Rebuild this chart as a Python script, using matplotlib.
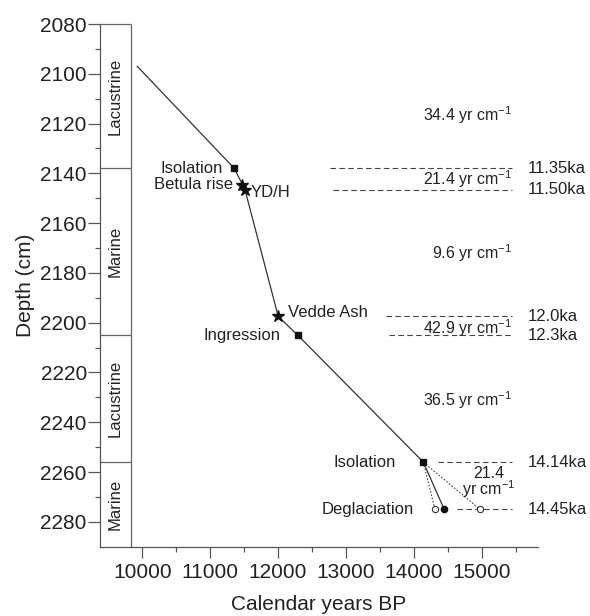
#!/usr/bin/env python3

import numpy as np
import matplotlib
matplotlib.use("Agg")
import matplotlib.pyplot as plt


# age-depth model
line_age = [9926, 11355, 11512, 12003, 12289, 14140, 14448]
line_depth = [2097, 2138, 2146.5, 2197.5, 2205, 2256, 2275]

square_age = [11355, 12289, 14140]
square_depth = [2138, 2205, 2256]

star_age = [11462, 11512, 12003]
star_depth = [2144.5, 2146.5, 2197.5]

# deglaciation alternatives
degl_age = 14448
degl_depth = 2275
open_age = [14311, 14975]
open_depth = [2275, 2275]

# lithology column
unit_names = ["Lacustrine", "Marine", "Lacustrine", "Marine"]
unit_top = [2080, 2138, 2205, 2256]
unit_bottom = [2138, 2205, 2256, 2290]

# dated horizons on the right
ka_labels = ["11.35ka", "11.50ka", "12.0ka", "12.3ka", "14.14ka", "14.45ka"]
ka_depth = [2138, 2146.5, 2197.5, 2205, 2256, 2275]
ka_start = [12764, 12813, 13589, 13633, 14359, 14630]
ka_end = 15450

# sedimentation rates
rate_values = ["34.4", "21.4", "9.6", "42.9", "36.5"]
rate_depth = [2116.5, 2142.5, 2172, 2202, 2231]

INK = "#222222"
AXC = "#555555"


def set_plot_style():
    plt.rcParams.update({
        "font.family": ["Liberation Sans", "DejaVu Sans"],
        "mathtext.default": "regular",
        "font.size": 12,
        "axes.linewidth": 0.9,
    })


def main():
    set_plot_style()

    fig = plt.figure(figsize=(5.9, 6.16), dpi=100)
    ax = fig.add_axes([0.1695, 0.1125, 0.7424, 0.8485])

    x0, x1 = 9377, 15830
    col_right = 9834
    ax.set_xlim(x0, x1)
    ax.set_ylim(2290, 2080)

    for side in ["top", "right"]:
        ax.spines[side].set_visible(False)
    for side in ["left", "bottom"]:
        ax.spines[side].set_color(AXC)

    # lithology column
    ax.vlines(col_right, 2080, 2290, color="#666666", lw=0.9)
    ax.hlines(unit_top, x0, col_right, color="#666666", lw=0.9, clip_on=False)
    for name, top, bot in zip(unit_names, unit_top, unit_bottom):
        ax.text((x0 + col_right) / 2, (top + bot) / 2, name, rotation=90,
                ha="center", va="center", fontsize=12, color=INK)

    # dashed horizons
    ax.hlines(ka_depth, ka_start, ka_end, color="#444444", lw=0.8,
              linestyles=(0, (5, 3)))
    for lab, d in zip(ka_labels, ka_depth):
        ax.annotate(lab, (ka_end, d), xytext=(11, 0), textcoords="offset points",
                    ha="left", va="center", fontsize=12, color=INK,
                    annotation_clip=False)

    # age-depth line
    ax.plot(line_age, line_depth, color="#333333", lw=0.9)
    for a, d in zip(open_age, open_depth):
        ax.plot([square_age[-1], a], [square_depth[-1], d], color="#444444",
                lw=0.8, linestyle=(0, (1.5, 1.5)))
    ax.plot(square_age, square_depth, "s", color="#111111", ms=4.5)
    ax.plot(star_age, star_depth, "*", color="#111111", ms=9)
    ax.plot(open_age, open_depth, "o", mfc="white", mec="#333333", ms=4.5, mew=0.8)
    ax.plot(degl_age, degl_depth, "o", color="#111111", ms=4.5)

    # event labels
    events = [
        ("Isolation", (11355, 2138), (-8, 0), "right"),
        ("Betula rise", (11462, 2144.5), (-6, 0), "right"),
        ("YD/H", (11512, 2147.5), (4, 0), "left"),
        ("Vedde Ash", (12003, 2197.5), (7, 3), "left"),
        ("Ingression", (12289, 2205), (-12, 0), "right"),
        ("Isolation", (14140, 2256), (-20, 0), "right"),
        ("Deglaciation", (14448, 2275), (-22, 0), "right"),
    ]
    for txt, xy, off, ha in events:
        ax.annotate(txt, xy, xytext=off, textcoords="offset points",
                    ha=ha, va="center", fontsize=12, color=INK)

    for val, d in zip(rate_values, rate_depth):
        ax.text(ka_end, d, val + r" yr cm$^{-1}$", ha="right", va="center",
                fontsize=11.5, color=INK)
    ax.text(15100, 2264.5, "21.4\n" + r"yr cm$^{-1}$", ha="center", va="center",
            fontsize=11.5, color=INK, linespacing=0.85)

    ax.set_yticks(np.arange(2080, 2281, 20))
    ax.set_yticks(np.arange(2090, 2290, 20), minor=True)
    ax.set_xticks(np.arange(10000, 15001, 1000))
    ax.set_xticks(np.arange(10500, 15501, 1000), minor=True)

    ax.tick_params(axis="y", which="major", length=8.5, width=0.9, pad=1,
                   color=AXC, labelcolor=INK, labelsize=15)
    ax.tick_params(axis="y", which="minor", length=3.5, width=0.9, color=AXC)
    ax.tick_params(axis="x", which="major", length=8, width=0.9, pad=4,
                   color=AXC, labelcolor=INK, labelsize=15)
    ax.tick_params(axis="x", which="minor", length=3.5, width=0.9, color=AXC)

    ax.set_xlabel("Calendar years BP", fontsize=15, color=INK, labelpad=9)
    ax.set_ylabel("Depth (cm)", fontsize=15, color=INK, labelpad=4)

    fig.savefig("out.png", dpi=100)
    plt.close(fig)


if __name__ == "__main__":
    main()
